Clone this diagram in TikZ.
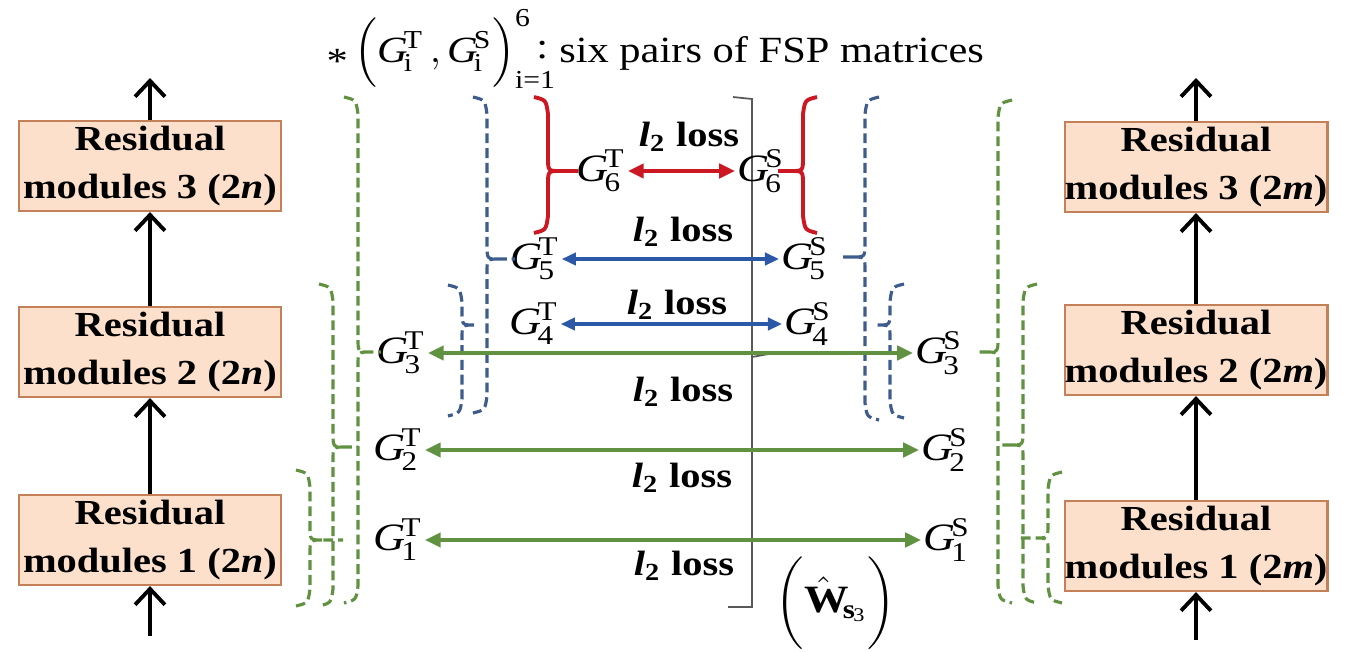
\documentclass[tikz,border=0pt]{standalone}
\usepackage{amsmath}
\usepackage{fontspec}
\setmainfont{Liberation Serif}[FakeStretch=1.15]
\usepackage{tikz}
\usetikzlibrary{arrows.meta}
\definecolor{peach}{RGB}{252,224,204}
\definecolor{rust}{RGB}{196,128,88}
\definecolor{moss}{RGB}{96,146,66}
\definecolor{slate}{RGB}{62,92,140}
\definecolor{royal}{RGB}{44,88,168}
\definecolor{crimson}{RGB}{204,24,34}
\tikzset{
  module/.style={draw=rust, fill=peach, line width=0.6pt, align=center, minimum width=2.61cm, minimum height=0.9cm, inner xsep=0pt, inner ysep=1pt, font=\fontsize{10}{13.5}\selectfont\bfseries},
  flow/.style={-{Straight Barb[length=4.5pt,width=8.5pt]}, line width=1.1pt},
  fsp/.style={inner sep=0.5pt, font=\fontsize{11}{13}\selectfont},
  loss/.style={inner sep=0pt, font=\fontsize{10}{12}\selectfont\bfseries},
  garrow/.style={{Triangle[length=4.5pt,width=4pt]}-{Triangle[length=4.5pt,width=4pt]}, line width=1.2pt, draw=moss},
  barrow/.style={{Triangle[length=4pt,width=3.5pt]}-{Triangle[length=4pt,width=3.5pt]}, line width=0.9pt, draw=royal},
  rarrow/.style={{Triangle[length=4.5pt,width=4pt]}-{Triangle[length=4.5pt,width=4pt]}, line width=1.2pt, draw=crimson},
  gbrace/.style={draw=moss, line width=0.9pt, dash pattern=on 2.8pt off 1.4pt},
  bbrace/.style={draw=slate, line width=0.9pt, dash pattern=on 2.8pt off 1.4pt},
  rbrace/.style={draw=crimson, line width=1.1pt},
  bracket/.style={draw=black!65, line width=0.5pt}
}
% brace "}" : style, x, top, tip, bottom, tip end
\newcommand{\rbrk}[6]{%
  \draw[#1] (#2-14,#3-3) .. controls (#2-2,#3) .. (#2,#3+14) -- (#2,#4-14) .. controls (#2,#4) .. (#2+12,#4) -- (#6,#4)
    (#2+12,#4) .. controls (#2,#4) .. (#2,#4+14) -- (#2,#5-14) .. controls (#2-2,#5) .. (#2-14,#5+3);}
% brace "{" : style, x, top, tip, bottom, tip end
\newcommand{\lbrk}[6]{%
  \draw[#1] (#2+14,#3-3) .. controls (#2+2,#3) .. (#2,#3+14) -- (#2,#4-14) .. controls (#2,#4) .. (#2-12,#4) -- (#6,#4)
    (#2-12,#4) .. controls (#2,#4) .. (#2,#4+14) -- (#2,#5-14) .. controls (#2+2,#5) .. (#2+14,#5+3);}
\newcommand{\gfsp}[2]{$\mathit{G}^{\text{#1}}_{\text{#2}}$}
\newcommand{\ltwo}{\textit{l}$_{\text{2}}$ loss}

\begin{document}
\begin{tikzpicture}[x=0.01cm, y=-0.01cm]
  \useasboundingbox (0,0) rectangle (1348,651);
  % teacher and student modules
  \node[module] (l3) at (150,166) {Residual\\modules 3 (2\textit{n})};
  \node[module] (l2) at (150,352) {Residual\\modules 2 (2\textit{n})};
  \node[module] (l1) at (150,540) {Residual\\modules 1 (2\textit{n})};
  \node[module] (r3) at (1196,167) {Residual\\modules 3 (2\textit{m})};
  \node[module] (r2) at (1196,350) {Residual\\modules 2 (2\textit{m})};
  \node[module] (r1) at (1196,546) {Residual\\modules 1 (2\textit{m})};
  \coordinate (ltop) at (150,78);
  \coordinate (lbot) at (150,636);
  \coordinate (rtop) at (1196,78);
  \coordinate (rbot) at (1196,640);
  \draw[flow] (lbot) -- (l1.south);
  \draw[flow] (l1.north) -- (l2.south);
  \draw[flow] (l2.north) -- (l3.south);
  \draw[flow] (l3.north) -- (ltop);
  \draw[flow] (rbot) -- (r1.south);
  \draw[flow] (r1.north) -- (r2.south);
  \draw[flow] (r2.north) -- (r3.south);
  \draw[flow] (r3.north) -- (rtop);
  % title
  \node[anchor=base west, inner sep=0pt, font=\fontsize{10.5}{13}\selectfont] (title) at (326,62)
    {\raisebox{-0.3em}{*}\,$\Big(\mathit{G}^{\text{T}}_{\text{i}}\,,\mathit{G}^{\text{S}}_{\text{i}}\Big)^{\text{6}}_{\text{i=1}}$\kern-0.55em\raisebox{0.1em}{:}\kern0.3em six pairs of FSP matrices};
  % thin bracket
  \draw[bracket] (733,97) -- (752,99) -- (752,607) -- (728,607);
  \draw[bracket] (752,357) -- (774,353);
  % FSP matrices
  \node[fsp] (gT6) at (601,171) {\gfsp{T}{6}};
  \node[fsp] (gS6) at (761,171) {\gfsp{S}{6}};
  \node[fsp] (gT5) at (535,259) {\gfsp{T}{5}};
  \node[fsp] (gS5) at (805,259) {\gfsp{S}{5}};
  \node[fsp] (gT4) at (534,324) {\gfsp{T}{4}};
  \node[fsp] (gS4) at (808,324) {\gfsp{S}{4}};
  \node[fsp] (gT3) at (401,353) {\gfsp{T}{3}};
  \node[fsp] (gS3) at (939,353) {\gfsp{S}{3}};
  \node[fsp] (gT2) at (398,450) {\gfsp{T}{2}};
  \node[fsp] (gS2) at (945,450) {\gfsp{S}{2}};
  \node[fsp] (gT1) at (398,540) {\gfsp{T}{1}};
  \node[fsp] (gS1) at (947,540) {\gfsp{S}{1}};
  % braces
  \rbrk{gbrace}{358}{100}{352}{600}{381}
  \rbrk{gbrace}{333}{287}{447}{603}{358}
  \rbrk{gbrace}{310}{473}{540}{603}{343}
  \rbrk{bbrace}{487}{100}{259}{410}{515}
  \rbrk{bbrace}{462}{288}{325}{413}{474}
  \lbrk{bbrace}{865}{100}{257}{417}{840}
  \lbrk{bbrace}{890}{287}{325}{415}{877}
  \lbrk{gbrace}{998}{103}{352}{600}{975}
  \lbrk{gbrace}{1023}{287}{445}{600}{998}
  \lbrk{gbrace}{1048}{475}{538}{600}{1017}
  \rbrk{rbrace}{548}{100}{171}{230}{578}
  \lbrk{rbrace}{803}{100}{171}{230}{778}
  % losses
  \draw[rarrow] (gT6) -- (gS6);
  \draw[barrow] (gT5) -- (gS5);
  \draw[barrow] (gT4) -- (gS4);
  \draw[garrow] (gT3) -- (gS3);
  \draw[garrow] (gT2) -- (gS2);
  \draw[garrow] (gT1) -- (gS1);
  \node[loss] (loss6) at (689,137) {\ltwo};
  \node[loss] (loss5) at (683,232) {\ltwo};
  \node[loss] (loss4) at (677,305) {\ltwo};
  \node[loss] (loss3) at (683,392) {\ltwo};
  \node[loss] (loss2) at (682,478) {\ltwo};
  \node[loss] (loss1) at (684,566) {\ltwo};
  \node[inner sep=0pt, font=\fontsize{11}{13}\selectfont] (wts) at (836,603)
    {$\bigg(\hat{\mathbf{W}}_{\mathbf{s}_{\text{3}}}\bigg)$};
\end{tikzpicture}
\end{document}
